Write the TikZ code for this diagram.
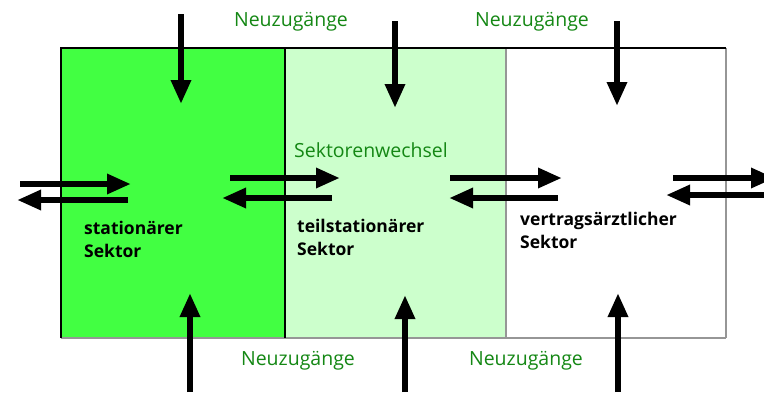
\documentclass[tikz,border=0pt]{standalone}
\usepackage{fontspec}
\setmainfont{Open Sans}
\usetikzlibrary{arrows.meta}
\definecolor{sgreen}{RGB}{66,255,66}
\definecolor{lgreen}{RGB}{204,255,204}
\definecolor{tgreen}{RGB}{20,135,20}
\definecolor{edgegray}{RGB}{150,150,150}
\tikzset{
  flow/.style={line width=6pt,-{Triangle[length=24pt,width=19pt]}},
  greenlbl/.style={text=tgreen,font=\fontsize{19.5}{22}\selectfont,inner sep=0pt},
  sektorlbl/.style={font=\bfseries\fontsize{17.5}{23}\selectfont,align=left,inner sep=0pt,anchor=base west},
}
\begin{document}
\begin{tikzpicture}[x=1pt,y=-1pt]
\useasboundingbox (0,0) rectangle (764,392);
% boxes
\fill[sgreen] (61,48) rectangle (285,338);
\fill[lgreen] (285,48) rectangle (506,338);
\fill[white] (506,48) rectangle (726,338);
\draw[edgegray,line width=1.5pt] (506,48) -- (506,338);
\draw[edgegray,line width=2pt] (726,48) -- (726,338);
\draw[edgegray,line width=2pt] (61,338) -- (726,338);
\draw[black,line width=1.2pt] (285,48) -- (285,338);
\draw[black,line width=2pt] (726,48) -- (61,48) -- (61,338);
% labels (anchor = baseline of last line)
\node[sektorlbl] (s1) at (84,257) {stationärer\\Sektor};
\node[sektorlbl] (s2) at (297,255) {teilstationärer\\Sektor};
\node[sektorlbl] (s3) at (520,248) {vertragsärztlicher\\Sektor};
\node[greenlbl] (n1) at (291,22) {Neuzugänge};
\node[greenlbl] (n2) at (532,22) {Neuzugänge};
\node[greenlbl] (n3) at (298,361) {Neuzugänge};
\node[greenlbl] (n4) at (526,361) {Neuzugänge};
\node[greenlbl,anchor=west] (sw) at (294,150) {Sektorenwechsel};
% coordinates for arrows
\coordinate (t1a) at (181,14); \coordinate (t1b) at (181,104);
\coordinate (t2a) at (395,21); \coordinate (t2b) at (395,108);
\coordinate (t3a) at (617,21); \coordinate (t3b) at (617,106);
\coordinate (b1a) at (190,392); \coordinate (b1b) at (190,293);
\coordinate (b2a) at (405,392); \coordinate (b2b) at (405,295);
\coordinate (b3a) at (618,392); \coordinate (b3b) at (618,293);
\coordinate (h1a) at (20,184); \coordinate (h1b) at (131,184);
\coordinate (h2a) at (128,200); \coordinate (h2b) at (17,200);
\coordinate (h3a) at (230,178); \coordinate (h3b) at (340,178);
\coordinate (h4a) at (332,198); \coordinate (h4b) at (222,198);
\coordinate (h5a) at (450,178); \coordinate (h5b) at (562,178);
\coordinate (h6a) at (558,198); \coordinate (h6b) at (449,198);
\coordinate (h7a) at (673,178); \coordinate (h7b) at (775,178);
\coordinate (h8a) at (770,195); \coordinate (h8b) at (666,195);
\foreach \a/\b in {t1a/t1b,t2a/t2b,t3a/t3b,b1a/b1b,b2a/b2b,b3a/b3b,h1a/h1b,h2a/h2b,h3a/h3b,h4a/h4b,h5a/h5b,h6a/h6b,h7a/h7b,h8a/h8b}
  \draw[flow] (\a) -- (\b);
\end{tikzpicture}
\end{document}
